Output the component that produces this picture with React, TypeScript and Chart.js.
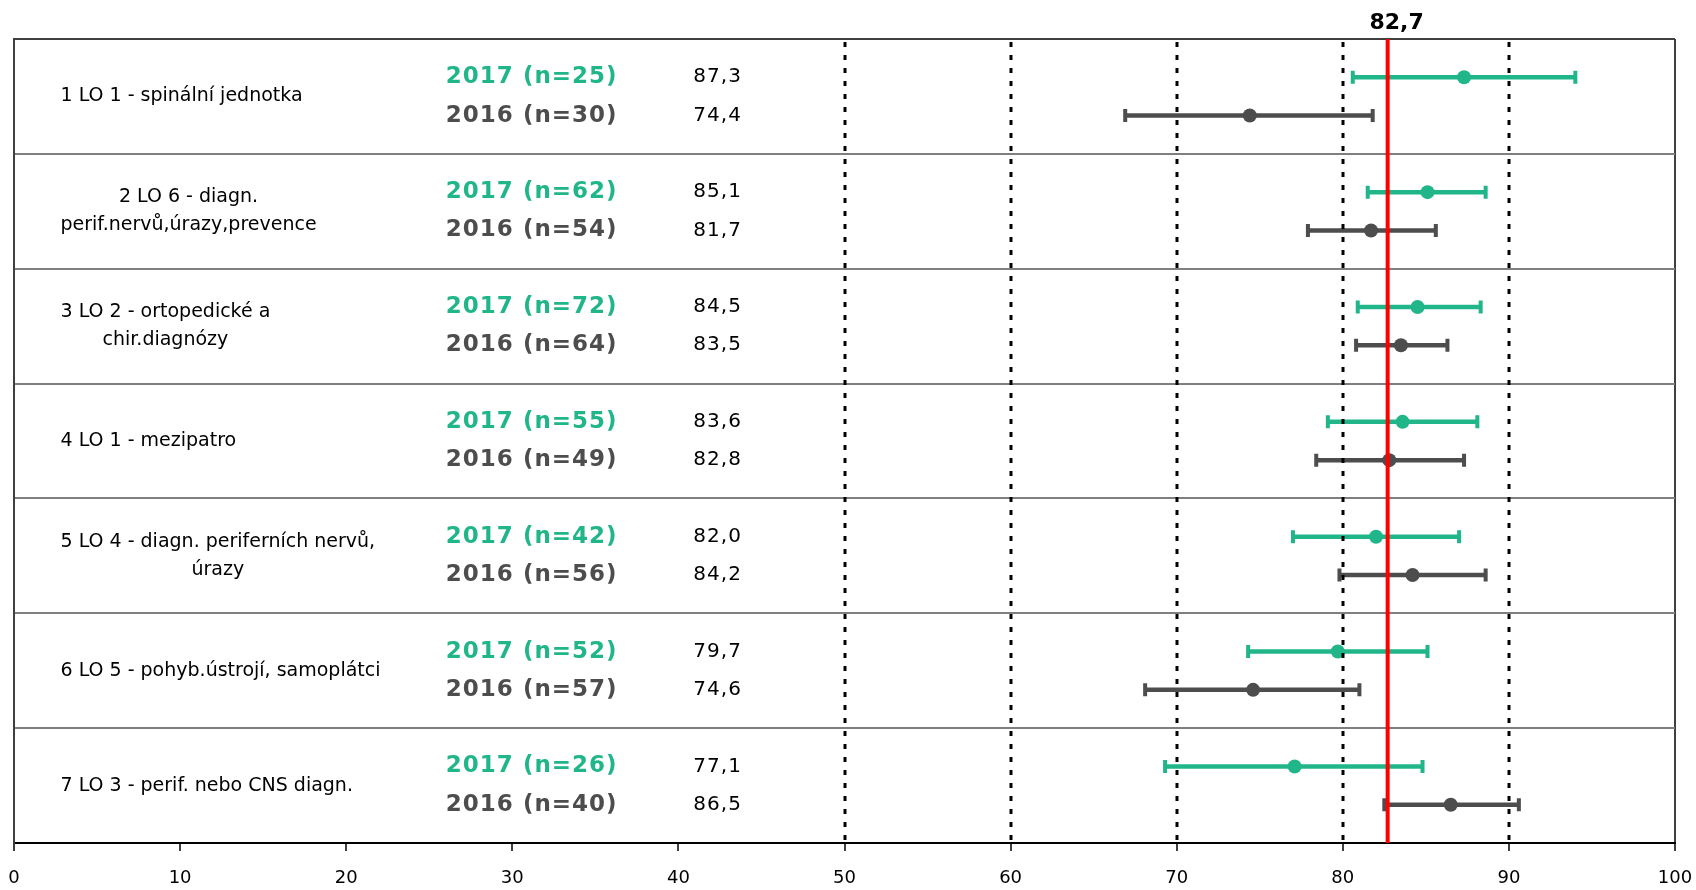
import React, { useEffect, useRef } from "react";
import { Chart, registerables } from "chart.js";

Chart.register(...registerables);

// ---------- data ----------
const categories: string[][] = [
  ["1 LO 1 - spinální jednotka"],
  ["2 LO 6 - diagn.", "perif.nervů,úrazy,prevence"],
  ["3 LO 2 - ortopedické a", "chir.diagnózy"],
  ["4 LO 1 - mezipatro"],
  ["5 LO 4 - diagn. periferních nervů,", "úrazy"],
  ["6 LO 5 - pohyb.ústrojí, samoplátci"],
  ["7 LO 3 - perif. nebo CNS diagn."],
];
const yearA = "2017";
const yearB = "2016";
const nA = [25, 62, 72, 55, 42, 52, 26];
const nB = [30, 54, 64, 49, 56, 57, 40];
const meanA = [87.3, 85.1, 84.5, 83.6, 82.0, 79.7, 77.1];
const meanB = [74.4, 81.7, 83.5, 82.8, 84.2, 74.6, 86.5];
const lowA = [80.6, 81.5, 80.9, 79.1, 77.0, 74.3, 69.3];
const highA = [94.0, 88.6, 88.3, 88.1, 87.0, 85.1, 84.8];
const lowB = [66.9, 77.9, 80.8, 78.4, 79.8, 68.1, 82.5];
const highB = [81.8, 85.6, 86.3, 87.3, 88.6, 81.0, 90.6];
const referenceValue = 82.7;
const dottedGridValues = [50, 60, 70, 80, 90];
const xMin = 0;
const xMax = 100;
const xStep = 10;

// ---------- style ----------
const GREEN = "#21b68a";
const GREY = "#4d4d4d";
const FONT = "'DejaVu Sans', Verdana, sans-serif";
const CAT_X = 2.8; // label columns expressed in x-axis units
const YEAR_X = 26.0;
const VALUE_X = 40.9;

const fmt = (v: number) => v.toFixed(1).replace(".", ",");

export default function App() {
  const ref = useRef<HTMLCanvasElement>(null);

  useEffect(() => {
    const canvas = ref.current;
    if (!canvas) return;

    const overlay = {
      id: "overlay",
      beforeDatasetsDraw(chart: any) {
        const { ctx } = chart;
        const x = chart.scales.x;
        const y = chart.scales.y;
        const bar = (lo: number, hi: number, yv: number, color: string) => {
          const x1 = x.getPixelForValue(lo);
          const x2 = x.getPixelForValue(hi);
          const yp = y.getPixelForValue(yv);
          ctx.save();
          ctx.strokeStyle = color;
          ctx.lineWidth = 4.5;
          ctx.lineCap = "butt";
          ctx.beginPath();
          ctx.moveTo(x1, yp);
          ctx.lineTo(x2, yp);
          ctx.stroke();
          ctx.lineWidth = 4;
          ctx.beginPath();
          ctx.moveTo(x1, yp - 6.5);
          ctx.lineTo(x1, yp + 6.5);
          ctx.moveTo(x2, yp - 6.5);
          ctx.lineTo(x2, yp + 6.5);
          ctx.stroke();
          ctx.restore();
        };
        categories.forEach((_, i) => {
          bar(lowA[i], highA[i], i + 1 / 3, GREEN);
          bar(lowB[i], highB[i], i + 2 / 3, GREY);
        });
      },
      afterDatasetsDraw(chart: any) {
        const { ctx, chartArea } = chart;
        const x = chart.scales.x;
        ctx.save();
        ctx.strokeStyle = "#000";
        ctx.lineWidth = 3;
        ctx.setLineDash([5, 8]);
        dottedGridValues.forEach((v) => {
          const xp = Math.round(x.getPixelForValue(v));
          ctx.beginPath();
          ctx.moveTo(xp, chartArea.top + 3);
          ctx.lineTo(xp, chartArea.bottom);
          ctx.stroke();
        });
        ctx.setLineDash([]);
        const rx = x.getPixelForValue(referenceValue);
        ctx.strokeStyle = "#ff0000";
        ctx.lineWidth = 4;
        ctx.beginPath();
        ctx.moveTo(rx, chartArea.top);
        ctx.lineTo(rx, chartArea.bottom);
        ctx.stroke();
        ctx.restore();
      },
      afterDraw(chart: any) {
        const { ctx, chartArea } = chart;
        const x = chart.scales.x;
        const y = chart.scales.y;
        ctx.save();
        // reference label
        const rx = x.getPixelForValue(referenceValue);
        ctx.fillStyle = "#000";
        ctx.font = `bold 22px ${FONT}`;
        ctx.textAlign = "center";
        ctx.textBaseline = "middle";
        ctx.fillText(fmt(referenceValue), rx + 9, chartArea.top - 16);

        categories.forEach((lines, i) => {
          // category label block
          ctx.letterSpacing = "0px";
          ctx.font = `19px ${FONT}`;
          ctx.fillStyle = "#000";
          const widths = lines.map((l) => ctx.measureText(l).width);
          const maxW = Math.max(...widths);
          const cx = x.getPixelForValue(CAT_X) + maxW / 2;
          const cy = y.getPixelForValue(i + 0.5);
          const lh = 28;
          ctx.textAlign = "center";
          lines.forEach((l, k) => {
            ctx.fillText(l, cx, cy + (k - (lines.length - 1) / 2) * lh);
          });
          // year labels
          const yA = y.getPixelForValue(i + 1 / 3);
          const yB = y.getPixelForValue(i + 2 / 3);
          ctx.textAlign = "left";
          ctx.letterSpacing = "1px";
          ctx.font = `bold 23px ${FONT}`;
          ctx.fillStyle = GREEN;
          ctx.fillText(`${yearA} (n=${nA[i]})`, x.getPixelForValue(YEAR_X), yA);
          ctx.fillStyle = GREY;
          ctx.fillText(`${yearB} (n=${nB[i]})`, x.getPixelForValue(YEAR_X), yB);
          // values
          ctx.font = `20px ${FONT}`;
          ctx.fillStyle = "#000";
          ctx.fillText(fmt(meanA[i]), x.getPixelForValue(VALUE_X), yA);
          ctx.fillText(fmt(meanB[i]), x.getPixelForValue(VALUE_X), yB);
          ctx.letterSpacing = "0px";
        });
        ctx.restore();
      },
    };

    const chart = new Chart(canvas, {
      type: "scatter",
      data: {
        datasets: [
          {
            label: yearA,
            data: meanA.map((v, i) => ({ x: v, y: i + 1 / 3 })),
            backgroundColor: GREEN,
            borderColor: GREEN,
            pointRadius: 7,
            pointHoverRadius: 7,
            borderWidth: 0,
          },
          {
            label: yearB,
            data: meanB.map((v, i) => ({ x: v, y: i + 2 / 3 })),
            backgroundColor: GREY,
            borderColor: GREY,
            pointRadius: 7,
            pointHoverRadius: 7,
            borderWidth: 0,
          },
        ],
      },
      options: {
        animation: false,
        responsive: false,
        devicePixelRatio: 1,
        layout: { padding: { left: 14, right: 21, top: 39, bottom: 0 } },
        plugins: {
          legend: { display: false },
          tooltip: { enabled: false },
        },
        scales: {
          x: {
            type: "linear",
            min: xMin,
            max: xMax,
            ticks: {
              stepSize: xStep,
              color: "#000",
              font: { family: FONT, size: 18 },
              padding: 17,
              maxRotation: 0,
            },
            grid: {
              drawOnChartArea: true,
              color: (c: any) =>
                c.tick && c.tick.value === xMax ? "#404040" : "rgba(0,0,0,0)",
              lineWidth: 2,
              tickColor: "#000",
              tickLength: 8,
              tickWidth: 1.5,
            },
            border: { display: true, color: "#000", width: 2 },
            afterFit: (s: any) => {
              s.height = 47;
              s.paddingLeft = 0;
              s.paddingRight = 0;
            },
          },
          y: {
            type: "linear",
            min: 0,
            max: categories.length,
            reverse: true,
            ticks: { display: false, stepSize: 1 },
            grid: {
              drawTicks: false,
              color: (c: any) =>
                c.tick && c.tick.value === 0 ? "#404040" : "#7f7f7f",
              lineWidth: 2,
            },
            border: { display: true, color: "#404040", width: 2 },
            afterFit: (s: any) => {
              s.width = 0;
            },
          },
        },
      },
      plugins: [overlay],
    });

    return () => chart.destroy();
  }, []);

  return (
    <div style={{ position: "absolute", left: 0, top: 0, width: 1696, height: 890, background: "#fff" }}>
      <canvas ref={ref} width={1696} height={890} />
    </div>
  );
}
